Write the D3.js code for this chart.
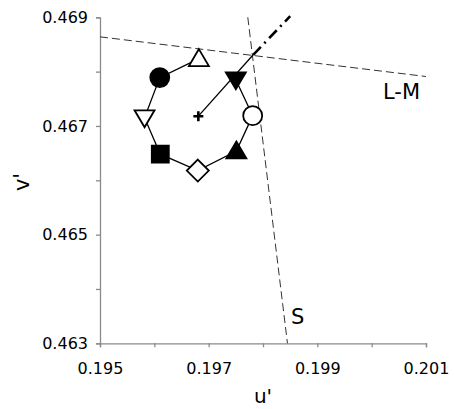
<!DOCTYPE html>
<html>
<head>
<meta charset="utf-8">
<script src="https://cdn.jsdelivr.net/npm/d3@7"></script>
<style>
  body { margin: 0; background: #fff; }
  text { font-family: "DejaVu Sans", Verdana, sans-serif; }
</style>
</head>
<body>
<script>
// chromaticity points around the ring (u', v'), in drawing order
const ringU = [0.19682, 0.19610, 0.19582, 0.19611, 0.19680, 0.19751, 0.19781, 0.19750]
const ringV = [0.46824, 0.46789, 0.46715, 0.46648, 0.46618, 0.46654, 0.46719, 0.46785]
const ringShape = ["triUpOpen", "circleFill", "triDownOpen", "squareFill", "diamondOpen", "triUpFill", "circleOpen", "triDownFill"]

// mean point (+)
const meanU = 0.19681
const meanV = 0.46718

// confusion lines
const lmU = [0.195, 0.201]
const lmV = [0.46864, 0.46791]
const sU = [0.19772, 0.19845]
const sV = [0.469, 0.463]

// intersection and dash-dot extension
const crossU = [0.19782, 0.19850]
const crossV = [0.46831, 0.46902]

const xTicks = [0.195, 0.196, 0.197, 0.198, 0.199, 0.200, 0.201]
const xLabels = [0.195, 0.197, 0.199, 0.201]
const yTicks = [0.463, 0.464, 0.465, 0.466, 0.467, 0.468, 0.469]
const yLabels = [0.463, 0.465, 0.467, 0.469]

const w = 455
const h = 409

const x = d3.scaleLinear().domain([0.195, 0.201]).range([100, 426])
const y = d3.scaleLinear().domain([0.463, 0.469]).range([343.3, 17.3])

const svg = d3.select("body")
              .append("svg")
              .attr("width", w)
              .attr("height", h)

// axes
const xAxis = d3.axisBottom(x)
                .tickValues(xTicks)
                .tickSize(4)
                .tickPadding(15)
                .tickFormat(d => xLabels.some(l => Math.abs(l - d) < 1e-9) ? d3.format(".3f")(d) : "")
const yAxis = d3.axisLeft(y)
                .tickValues(yTicks)
                .tickSize(4)
                .tickPadding(8)
                .tickFormat(d => yLabels.some(l => Math.abs(l - d) < 1e-9) ? d3.format(".3f")(d) : "")

const gx = svg.append("g").attr("transform", "translate(0,343.3)").call(xAxis)
const gy = svg.append("g").attr("transform", "translate(100,0)").call(yAxis)

for (const g of [gx, gy]) {
  g.select(".domain").attr("stroke", "#8a8a8a").attr("stroke-width", 1.3)
  g.selectAll(".tick line").attr("stroke", "#8a8a8a").attr("stroke-width", 1.3)
  g.selectAll(".tick text")
   .attr("fill", "#000")
   .style("font-size", "16px")
   .style("font-family", "DejaVu Sans, Verdana, sans-serif")
}

// axis titles
svg.append("text")
   .attr("x", 263)
   .attr("y", 403)
   .attr("text-anchor", "middle")
   .style("font-size", "20px")
   .text("u'")

svg.append("text")
   .attr("transform", "translate(29,182) rotate(-90)")
   .attr("text-anchor", "middle")
   .style("font-size", "21px")
   .text("v'")

const line = d3.line().x(d => x(d[0])).y(d => y(d[1]))

// dashed confusion lines
svg.append("path")
   .datum(d3.zip(lmU, lmV))
   .attr("d", line)
   .attr("fill", "none")
   .attr("stroke", "#333")
   .attr("stroke-width", 1)
   .attr("stroke-dasharray", "8,4")

svg.append("path")
   .datum(d3.zip(sU, sV))
   .attr("d", line)
   .attr("fill", "none")
   .attr("stroke", "#333")
   .attr("stroke-width", 1)
   .attr("stroke-dasharray", "8,4")

// dash-dot extension
svg.append("path")
   .datum(d3.zip(crossU, crossV))
   .attr("d", line)
   .attr("fill", "none")
   .attr("stroke", "#000")
   .attr("stroke-width", 2.6)
   .attr("stroke-dasharray", "11,5,2,5")

// line from mean to intersection
svg.append("path")
   .datum([[meanU, meanV], [crossU[0], crossV[0]]])
   .attr("d", line)
   .attr("fill", "none")
   .attr("stroke", "#000")
   .attr("stroke-width", 1.3)

// ring
svg.append("path")
   .datum(d3.zip(ringU, ringV))
   .attr("d", line)
   .attr("fill", "none")
   .attr("stroke", "#000")
   .attr("stroke-width", 1.3)

// marker paths, centred on the point
const markerPath = {
  triUp: "M0,-9.5L10,7.5L-10,7.5Z",
  triDown: "M0,9.5L10,-7.5L-10,-7.5Z",
  circle: d3.symbol(d3.symbolCircle, 283)(),
  square: "M-8.5,-8.5H8.5V8.5H-8.5Z",
  diamond: "M0,-11L11,0L0,11L-11,0Z"
}

svg.selectAll(".marker")
   .data(d3.range(ringU.length))
   .enter()
   .append("path")
   .attr("class", "marker")
   .attr("transform", i => `translate(${x(ringU[i])},${y(ringV[i])})`)
   .attr("d", i => markerPath[ringShape[i].replace(/Open|Fill/, "")])
   .attr("fill", i => ringShape[i].endsWith("Fill") ? "#000" : "#fff")
   .attr("stroke", "#000")
   .attr("stroke-width", 1.8)
   .attr("stroke-linejoin", "miter")

// mean cross
svg.append("path")
   .attr("transform", `translate(${x(meanU)},${y(meanV)})`)
   .attr("d", "M-5,0H5M0,-5V5")
   .attr("stroke", "#000")
   .attr("stroke-width", 2.6)

// line labels
svg.append("text")
   .attr("x", 383)
   .attr("y", 99)
   .style("font-size", "21px")
   .text("L-M")

svg.append("text")
   .attr("x", 291)
   .attr("y", 324)
   .style("font-size", "21px")
   .text("S")
</script>
</body>
</html>
